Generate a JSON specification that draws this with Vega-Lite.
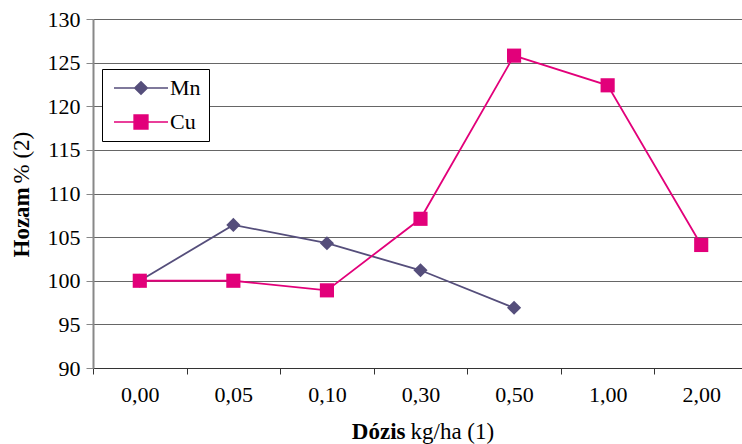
{
  "$schema": "https://vega.github.io/schema/vega-lite/v6.json",
  "width": 655,
  "height": 349,
  "autosize": "none",
  "padding": {"left": 93, "top": 19, "right": 0, "bottom": 76},
  "background": "white",
  "config": {
    "view": {"stroke": null},
    "font": "Liberation Serif",
    "axis": {"labelFont": "Liberation Serif", "titleFont": "Liberation Serif", "labelColor": "black", "titleColor": "black", "labelFontSize": 22, "titleFontSize": 23}
  },
  "data": {
    "values": [
      {"series": "Mn", "dose": "0,00", "yield": 100},
      {"series": "Mn", "dose": "0,05", "yield": 106.4},
      {"series": "Mn", "dose": "0,10", "yield": 104.3},
      {"series": "Mn", "dose": "0,30", "yield": 101.2},
      {"series": "Mn", "dose": "0,50", "yield": 96.9},
      {"series": "Cu", "dose": "0,00", "yield": 100},
      {"series": "Cu", "dose": "0,05", "yield": 100},
      {"series": "Cu", "dose": "0,10", "yield": 98.9},
      {"series": "Cu", "dose": "0,30", "yield": 107.1},
      {"series": "Cu", "dose": "0,50", "yield": 125.8},
      {"series": "Cu", "dose": "1,00", "yield": 122.4},
      {"series": "Cu", "dose": "2,00", "yield": 104.1}
    ]
  },
  "layer": [
    {
      "mark": {"type": "line", "strokeWidth": 1.8},
      "encoding": {
        "x": {
          "field": "dose",
          "type": "ordinal",
          "sort": ["0,00", "0,05", "0,10", "0,30", "0,50", "1,00", "2,00"],
          "scale": {"type": "band", "paddingInner": 0, "paddingOuter": 0},
          "axis": {
            "orient": "bottom",
            "title": "Dózis",
            "titleFontWeight": "bold",
            "titleX": 312,
            "titleY": 70,
            "titleAlign": "right",
            "titleBaseline": "alphabetic",
            "labelAngle": 0,
            "labelPadding": 10,
            "tickSize": 6,
            "tickBand": "extent",
            "tickColor": "#333",
            "domainColor": "#333",
            "grid": false
          }
        },
        "y": {
          "field": "yield",
          "type": "quantitative",
          "scale": {"domain": [90, 130], "nice": false, "zero": false},
          "axis": {
            "orient": "left",
            "title": "Hozam",
            "titleFontWeight": "bold",
            "titleAngle": -90,
            "titleX": -65,
            "titleY": 238,
            "titleAlign": "left",
            "titleBaseline": "alphabetic",
            "values": [90, 95, 100, 105, 110, 115, 120, 125, 130],
            "labelPadding": 6,
            "tickSize": 7,
            "tickColor": "#888",
            "domainColor": "#888",
            "domainWidth": 2,
            "grid": true,
            "gridColor": "#666",
            "gridWidth": 1.2
          }
        },
        "color": {
          "field": "series",
          "type": "nominal",
          "scale": {"domain": ["Mn", "Cu"], "range": ["#554e7b", "#e2007a"]},
          "legend": {
            "title": null,
            "orient": "none",
            "legendX": 9,
            "legendY": 50,
            "padding": 8,
            "strokeColor": "black",
            "fillColor": "white",
            "labelFont": "Liberation Serif",
            "labelFontSize": 22,
            "labelColor": "black",
            "labelOffset": 18,
            "symbolOffset": 20,
            "symbolSize": 144,
            "symbolStrokeWidth": 1.5,
            "symbolOpacity": 1,
            "rowPadding": 12
          }
        }
      }
    },
    {
      "transform": [{"filter": "datum.series === 'Mn'"}],
      "mark": {"type": "point", "filled": true, "size": 200, "opacity": 1, "shape": "diamond", "color": "#554e7b"},
      "encoding": {
        "x": {
          "field": "dose",
          "type": "ordinal",
          "sort": ["0,00", "0,05", "0,10", "0,30", "0,50", "1,00", "2,00"],
          "axis": {
            "orient": "bottom",
            "title": "kg/ha (1)",
            "titleFontWeight": "normal",
            "titleX": 317,
            "titleY": 70,
            "titleAlign": "left",
            "titleBaseline": "alphabetic",
            "labels": false,
            "ticks": false,
            "domain": false,
            "grid": false
          }
        },
        "y": {
          "field": "yield",
          "type": "quantitative",
          "axis": {
            "orient": "left",
            "title": "% (2)",
            "titleFontWeight": "normal",
            "titleAngle": -90,
            "titleX": -65,
            "titleY": 164,
            "titleAlign": "left",
            "titleBaseline": "alphabetic",
            "labels": false,
            "ticks": false,
            "domain": false,
            "grid": false
          }
        }
      }
    },
    {
      "transform": [{"filter": "datum.series === 'Cu'"}],
      "mark": {"type": "point", "filled": true, "size": 200, "opacity": 1, "shape": "square", "color": "#e2007a"},
      "encoding": {
        "x": {"field": "dose", "type": "ordinal", "sort": ["0,00", "0,05", "0,10", "0,30", "0,50", "1,00", "2,00"], "axis": null},
        "y": {"field": "yield", "type": "quantitative", "axis": null}
      }
    },
    {
      "transform": [{"filter": "datum.yield > 1000"}],
      "mark": {"type": "point", "filled": true, "opacity": 1},
      "encoding": {
        "x": {"field": "dose", "type": "ordinal", "sort": ["0,00", "0,05", "0,10", "0,30", "0,50", "1,00", "2,00"], "axis": null},
        "y": {"field": "yield", "type": "quantitative", "axis": null},
        "color": {
          "field": "series",
          "type": "nominal",
          "scale": {"domain": ["Mn", "Cu"], "range": ["#554e7b", "#e2007a"]},
          "legend": {"title": null}
        },
        "stroke": {
          "field": "series",
          "type": "nominal",
          "scale": {"domain": ["Mn", "Cu"], "range": ["#554e7b", "#e2007a"]},
          "legend": {"title": null}
        },
        "shape": {
          "field": "series",
          "type": "nominal",
          "scale": {"domain": ["Mn", "Cu"], "range": ["M-4.5,0H-1.05M1.05,0H4.5M0,-1.05L1.05,0L0,1.05L-1.05,0Z", "M-4.5,0H-1.15M1.15,0H4.5M-1.15,-1.15H1.15V1.15H-1.15Z"]},
          "legend": {"title": null}
        }
      }
    }
  ],
  "resolve": {"axis": {"x": "independent", "y": "independent"}}
}
